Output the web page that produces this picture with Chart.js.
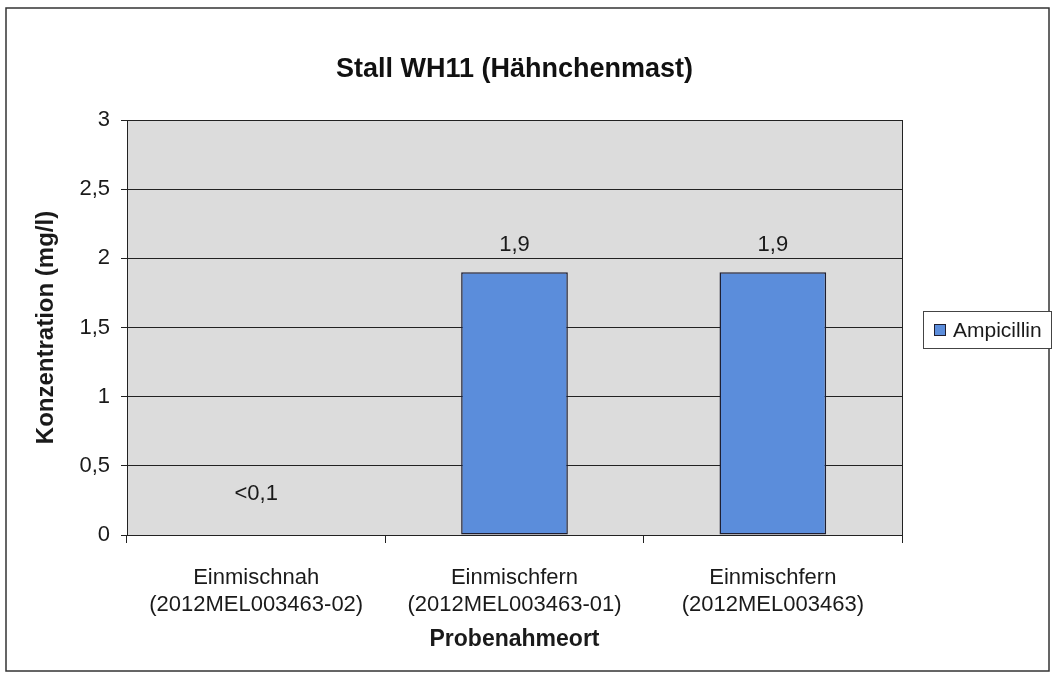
<!DOCTYPE html>
<html>
<head>
<meta charset="utf-8">
<script src="https://cdn.jsdelivr.net/npm/chart.js@4"></script>
<style>
  html, body { margin: 0; padding: 0; background: #fff; }
  #wrap { width: 1054px; height: 687px; }
</style>
</head>
<body>
<div id="wrap"><canvas id="chart" width="1054" height="687"></canvas></div>
<script>
// values
var categories = [
    ['Einmischnah', '(2012MEL003463-02)'],
    ['Einmischfern', '(2012MEL003463-01)'],
    ['Einmischfern', '(2012MEL003463)']
];
var seriesName = 'Ampicillin';
var values = [0.1, 1.9, 1.9];          // first one is "<0,1", drawn without a visible bar
var valueLabels = ['<0,1', '1,9', '1,9'];
var chartTitle = 'Stall WH11 (Hähnchenmast)';
var yTitle = 'Konzentration (mg/l)';
var xTitle = 'Probenahmeort';

var FONT = '"Liberation Sans", Arial, sans-serif';
var barBlue = '#5b8ddb';
var barEdge = '#1e1e30';

// plot background, frame, outer border, title, legend, value labels
var decor = {
    id: 'decor',
    beforeDraw: function(chart) {
        var c = chart.ctx, a = chart.chartArea;
        c.save();
        c.fillStyle = '#fff';
        c.fillRect(0, 0, chart.width, chart.height);
        c.fillStyle = '#dcdcdc';
        c.fillRect(a.left, a.top, a.right - a.left, a.bottom - a.top);
        c.strokeStyle = '#333';
        c.lineWidth = 1.5;
        c.strokeRect(6, 8, 1043, 663);
        c.fillStyle = '#111';
        c.font = 'bold 27px ' + FONT;
        c.textAlign = 'center';
        c.textBaseline = 'middle';
        c.fillText(chartTitle, (a.left + a.right) / 2, 70);
        c.restore();
    },
    beforeDatasetsDraw: function(chart) {
        var c = chart.ctx, a = chart.chartArea;
        c.save();
        c.strokeStyle = '#222';
        c.lineWidth = 1;
        c.beginPath();
        c.moveTo(a.right + 0.5, a.top);
        c.lineTo(a.right + 0.5, a.bottom);
        c.stroke();
        c.restore();
    },
    afterDatasetsDraw: function(chart) {
        var c = chart.ctx;
        var meta = chart.getDatasetMeta(0);
        c.save();
        c.fillStyle = '#1a1a1a';
        c.font = '22px ' + FONT;
        c.textAlign = 'center';
        c.textBaseline = 'middle';
        meta.data.forEach(function(bar, i) {
            c.fillText(valueLabels[i], bar.x, bar.y - 27);
        });
        // legend
        var ds = chart.data.datasets[0];
        c.font = '21px ' + FONT;
        c.fillStyle = '#fff';
        c.fillRect(923, 311, 129, 38);
        c.strokeStyle = '#444';
        c.lineWidth = 1;
        c.strokeRect(923.5, 311.5, 128, 37);
        c.fillStyle = barBlue;
        c.fillRect(934, 324, 12, 12);
        c.strokeStyle = barEdge;
        c.strokeRect(934.5, 324.5, 11, 11);
        c.fillStyle = '#1a1a1a';
        c.textAlign = 'left';
        c.fillText(ds.label, 953, 331);
        c.restore();
    }
};

var ctx = document.getElementById('chart').getContext('2d');
var myChart = new Chart(ctx, {
    type: 'bar',
    data: {
        labels: categories,
        datasets: [{
            label: seriesName,
            data: values,
            backgroundColor: [ 'rgba(0,0,0,0)', barBlue, barBlue ],
            borderColor: [ 'rgba(0,0,0,0)', barEdge, barEdge ],
            borderWidth: 1.5,
            borderSkipped: false,
            categoryPercentage: 1,
            barPercentage: 0.413
        }]
    },
    options: {
        responsive: false,
        animation: false,
        layout: {
            padding: { left: 5, top: 120, right: 152, bottom: 0 }
        },
        scales: {
            x: {
                afterFit: function(s) { s.height = 152; },
                grid: {
                    offset: true,
                    drawOnChartArea: false,
                    drawTicks: true,
                    tickLength: 8,
                    color: '#222'
                },
                border: { display: true, color: '#222', width: 1 },
                ticks: {
                    color: '#1a1a1a',
                    padding: 21,
                    maxRotation: 0,
                    font: { family: FONT, size: 22, lineHeight: 1.25 }
                },
                title: {
                    display: true,
                    text: xTitle,
                    color: '#1a1a1a',
                    padding: { top: 0, bottom: 34 },
                    font: { family: FONT, size: 23, weight: 'bold' }
                }
            },
            y: {
                min: 0,
                max: 3,
                afterFit: function(s) { s.width = 122; },
                grid: {
                    color: '#222',
                    lineWidth: 1,
                    tickLength: 6
                },
                border: { display: true, color: '#222', width: 1 },
                ticks: {
                    stepSize: 0.5,
                    color: '#1a1a1a',
                    padding: 11,
                    font: { family: FONT, size: 22 },
                    callback: function(v) { return String(v).replace('.', ','); }
                },
                title: {
                    display: true,
                    text: yTitle,
                    color: '#1a1a1a',
                    padding: { top: 27, bottom: 0 },
                    font: { family: FONT, size: 24, weight: 'bold' }
                }
            }
        },
        plugins: {
            legend: { display: false },
            title: { display: false },
            tooltip: { enabled: false }
        }
    },
    plugins: [decor]
});
</script>
</body>
</html>
